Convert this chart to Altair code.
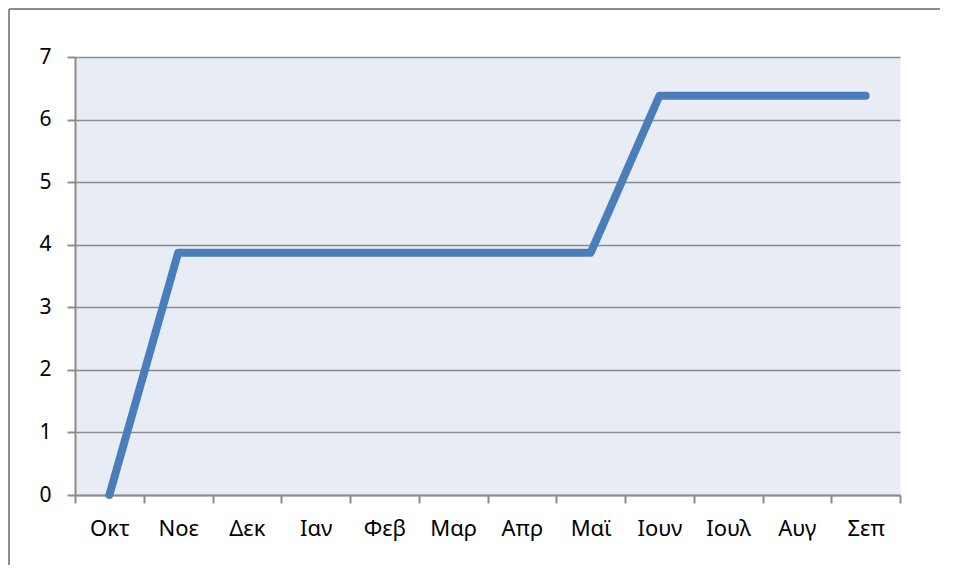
import altair as alt
import pandas as pd

months = ["Οκτ", "Νοε", "Δεκ", "Ιαν", "Φεβ", "Μαρ", "Απρ", "Μαϊ", "Ιουν", "Ιουλ", "Αυγ", "Σεπ"]
values = [0, 3.87, 3.87, 3.87, 3.87, 3.87, 3.87, 3.87, 6.38, 6.38, 6.38, 6.38]
y_ticks = [0, 1, 2, 3, 4, 5, 6, 7]

df = pd.DataFrame({"month": months, "value": values})

W, H = 825, 438
FONT = "Noto Sans"
one = pd.DataFrame({"a": [0]})

top_border = alt.Chart(one).mark_rule(stroke="#8C8C8C", strokeWidth=2).encode(
    x=alt.value(-66), x2=alt.value(W + 45), y=alt.value(-48), y2=alt.value(-48)
)
left_border = alt.Chart(one).mark_rule(stroke="#8C8C8C", strokeWidth=2).encode(
    x=alt.value(-66), x2=alt.value(-66), y=alt.value(-48), y2=alt.value(H + 75)
)

line = alt.Chart(df).mark_line(
    color="#4A7EBB", strokeWidth=8, strokeCap="round", strokeJoin="round"
).encode(
    x=alt.X("month:N", sort=months, title=None,
            scale=alt.Scale(type="band", paddingInner=0, paddingOuter=0),
            axis=alt.Axis(labelAngle=0, tickBand="extent", grid=False,
                          domainColor="#8C8C8C", domainWidth=2,
                          tickColor="#8C8C8C", tickWidth=2, tickSize=8,
                          labelFont=FONT, labelFontSize=22, labelColor="#000000",
                          labelPadding=15)),
    y=alt.Y("value:Q", title=None,
            scale=alt.Scale(domain=[0, 7], nice=False),
            axis=alt.Axis(values=y_ticks, grid=True, gridColor="#8C8C8C", gridWidth=1.5,
                          domainColor="#8C8C8C", domainWidth=2,
                          tickColor="#8C8C8C", tickWidth=2, tickSize=8,
                          labelFont=FONT, labelFontSize=21, labelColor="#000000",
                          labelPadding=16)),
)

chart = alt.layer(line, top_border, left_border).properties(
    width=W, height=H,
    autosize=alt.AutoSizeParams(type="none"),
    padding={"left": 67, "top": 49, "right": 40, "bottom": 70},
).configure_view(
    fill="#E8ECF4", stroke="transparent"
)

chart.save("out.html", embed_options={"renderer": "svg", "actions": False})
